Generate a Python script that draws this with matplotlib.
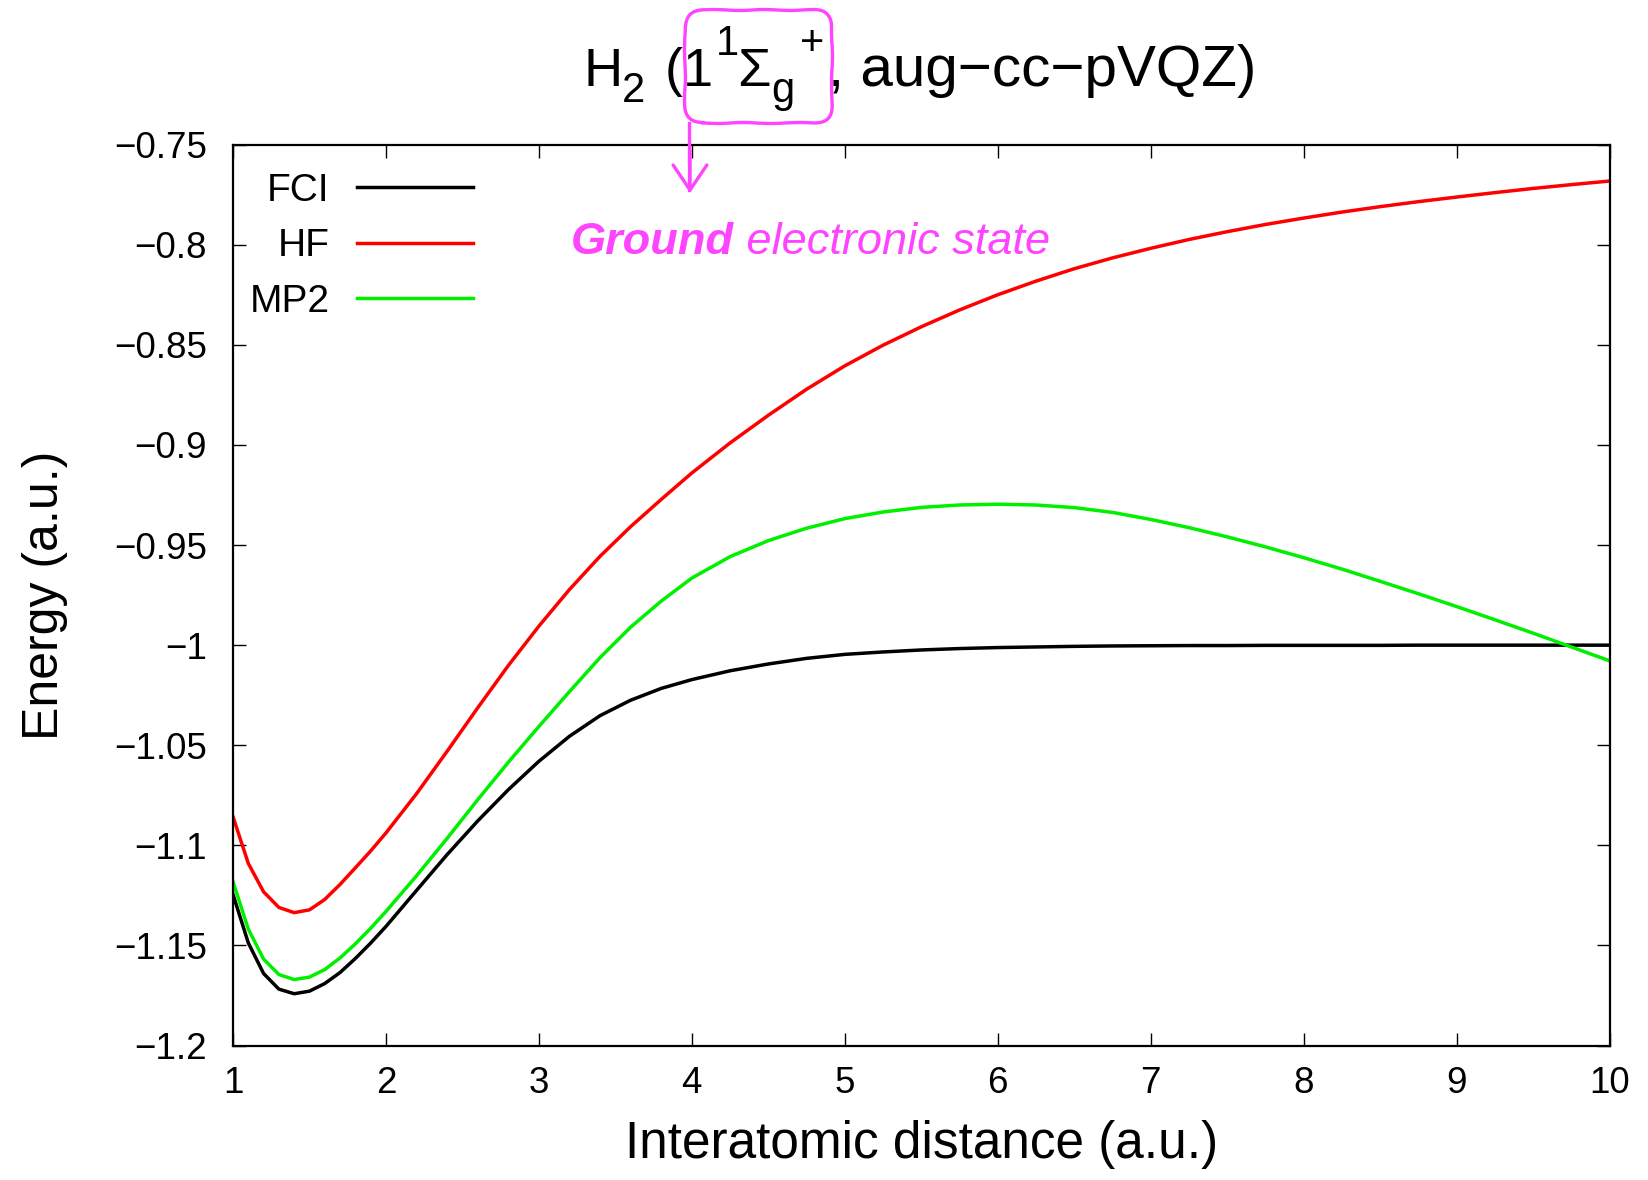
import matplotlib

matplotlib.use("Agg")

import matplotlib.pyplot as plt
from matplotlib.patches import FancyBboxPatch
from matplotlib.transforms import IdentityTransform

# interatomic distance (bohr) and energies (hartree)
distance = [1.0, 1.1, 1.2, 1.3, 1.4, 1.5, 1.6, 1.7, 1.8, 1.9, 2.0,
            2.2, 2.4, 2.6, 2.8, 3.0, 3.2, 3.4, 3.6, 3.8, 4.0,
            4.25, 4.5, 4.75, 5.0, 5.25, 5.5, 5.75, 6.0, 6.25, 6.5, 6.75, 7.0,
            7.25, 7.5, 7.75, 8.0, 8.25, 8.5, 8.75, 9.0, 9.25, 9.5, 9.75, 10.0]

energy_fci = [-1.1245, -1.1487, -1.1640, -1.1718, -1.1741, -1.1728, -1.1690, -1.1635, -1.1565, -1.1488, -1.1405,
              -1.1225, -1.1046, -1.0878, -1.0722, -1.0580, -1.0455, -1.0352, -1.0275, -1.0216, -1.0172,
              -1.0128, -1.0094, -1.0066, -1.0046, -1.0034, -1.0024, -1.0017, -1.0012, -1.0009, -1.0006, -1.0004, -1.0003,
              -1.0002, -1.0002, -1.0001, -1.0001, -1.0001, -1.0001, -1.0000, -1.0000, -1.0000, -1.0000, -1.0000, -1.0000]

energy_hf = [-1.0857, -1.1090, -1.1232, -1.1310, -1.1336, -1.1322, -1.1270, -1.1195, -1.1112, -1.1028, -1.0938,
             -1.0742, -1.0530, -1.0313, -1.0102, -0.9905, -0.9722, -0.9556, -0.9408, -0.9272, -0.9140,
             -0.8990, -0.8852, -0.8722, -0.8605, -0.8502, -0.8410, -0.8326, -0.8250, -0.8182, -0.8120, -0.8066, -0.8018,
             -0.7974, -0.7935, -0.7899, -0.7867, -0.7837, -0.7810, -0.7785, -0.7762, -0.7740, -0.7719, -0.7700, -0.7682]

energy_mp2 = [-1.1182, -1.1418, -1.1568, -1.1645, -1.1670, -1.1658, -1.1620, -1.1562, -1.1492, -1.1414, -1.1330,
              -1.1152, -1.0965, -1.0772, -1.0585, -1.0406, -1.0232, -1.0062, -0.9910, -0.9780, -0.9665,
              -0.9558, -0.9478, -0.9416, -0.9368, -0.9335, -0.9312, -0.9300, -0.9296, -0.9300, -0.9313, -0.9337, -0.9372,
              -0.9413, -0.9459, -0.9509, -0.9563, -0.9620, -0.9681, -0.9743, -0.9807, -0.9873, -0.9940, -1.0009, -1.0078]

series = [("FCI", energy_fci, "#000000"),
          ("HF", energy_hf, "#ff0000"),
          ("MP2", energy_mp2, "#00f000")]

y_ticks = [-1.2, -1.15, -1.1, -1.05, -1.0, -0.95, -0.9, -0.85, -0.8, -0.75]
y_tick_labels = ["\u22121.2", "\u22121.15", "\u22121.1", "\u22121.05", "\u22121",
                 "\u22120.95", "\u22120.9", "\u22120.85", "\u22120.8", "\u22120.75"]
x_ticks = [1, 2, 3, 4, 5, 6, 7, 8, 9, 10]

# title pieces: text, shift of baseline (px, + is up), font size, gap after (px)
title_pieces = [("H", 0, 39, 0), ("2", -16, 30, 5), (" (1", 0, 39, 2), ("1", 31, 30, -2),
                ("\u03a3", 0, 39, 1), ("g", -16, 30, 6), ("+", 31, 30, 3),
                (", aug\u2212cc\u2212pVQZ)", 0, 42, 0)]

magenta = "#ff44ff"

plt.rcParams["font.family"] = ["Liberation Sans", "DejaVu Sans"]

W, H = 1648, 1180
figure = plt.figure(figsize=(W / 100, H / 100), dpi=100)
axis = figure.add_axes([233 / W, 1 - 1045.6 / H, 1376.5 / W, 901 / H])

for name, values, colour in series:
    axis.plot(distance, values, color=colour, linewidth=2.5, label=name)

axis.set_xlim(1, 10)
axis.set_ylim(-1.2, -0.75)
axis.set_xticks(x_ticks)
axis.set_yticks(y_ticks)
axis.set_yticklabels(y_tick_labels)
axis.tick_params(direction="in", length=9.5, width=1.0, top=True, right=True, labelsize=26.5)
axis.tick_params(axis="y", pad=19)
axis.tick_params(axis="x", pad=15)
for spine in axis.spines.values():
    spine.set_linewidth(1.6)

axis.set_xlabel("Interatomic distance (a.u.)", fontsize=37)
axis.xaxis.set_label_coords(0.5, -0.083)
axis.set_ylabel("Energy (a.u.)", fontsize=36)
axis.yaxis.set_label_coords(-0.12, 0.5)

axis.legend(loc="upper left", bbox_to_anchor=(0.0, 1 - 12 / 901), frameon=False,
            markerfirst=False, fontsize=28, handlelength=2.96, handletextpad=0.72,
            labelspacing=0.5, borderaxespad=0.0, borderpad=0.42)

# title built from pieces so sub/superscripts sit like the gnuplot original
renderer = figure.canvas.get_renderer()
x_pos = 583
for text, shift, size, gap in title_pieces:
    piece = figure.text(x_pos / W, (H - 86 + shift) / H, text, fontsize=size,
                        ha="left", va="baseline")
    x_pos = piece.get_window_extent(renderer).x1 + gap

# hand-drawn style highlight around the term symbol
box = FancyBboxPatch((685, H - 123), 147, 113, boxstyle="round,pad=0,rounding_size=18",
                     transform=IdentityTransform(), facecolor="none", edgecolor=magenta,
                     linewidth=2.4, zorder=5)
box.set_sketch_params(scale=0.5, length=60, randomness=2)
figure.add_artist(box)
figure.add_artist(plt.Line2D([689, 689], [H - 123, H - 190], transform=IdentityTransform(),
                             color=magenta, linewidth=2.4))
axis.annotate("", xy=(690, H - 193), xytext=(690, H - 150),
              xycoords="figure pixels", textcoords="figure pixels",
              arrowprops=dict(arrowstyle="->,head_length=0.4,head_width=0.27", color=magenta,
                              lw=2.4, mutation_scale=45, shrinkA=0, shrinkB=0))

ground = figure.text(571 / W, 1 - 254 / H, "Ground", fontsize=32.5, color=magenta,
                     fontweight="bold", fontstyle="italic", va="baseline")
axis.annotate(" electronic state", xy=(1, 0), xycoords=ground, fontsize=32.5,
              color=magenta, fontstyle="italic", va="bottom", ha="left")

figure.savefig("out.png", dpi=100)
plt.close(figure)
